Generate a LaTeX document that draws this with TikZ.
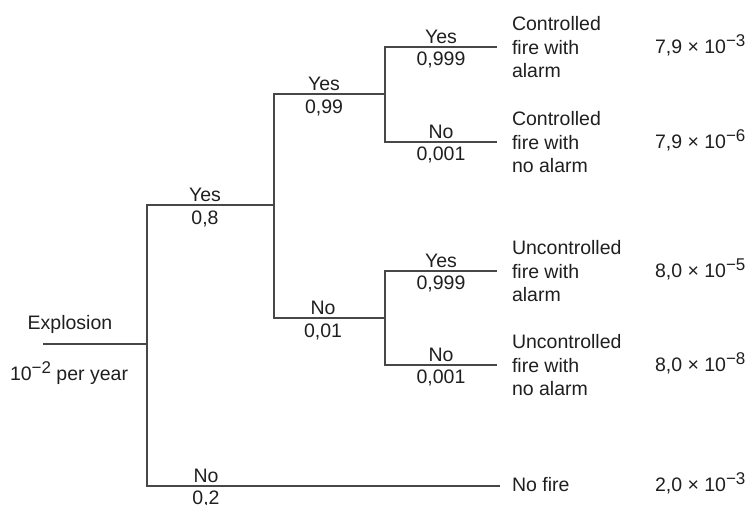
\documentclass[tikz,border=0pt]{standalone}
\usepackage{fontspec}
\setmainfont{Liberation Sans}
% power of ten with a raised exponent
\newcommand{\tenpow}[1]{10\raisebox{7pt}{\fontsize{17}{17}\selectfont −#1}}
\begin{document}
\begin{tikzpicture}[x=1pt,y=-1pt,
  every node/.style={inner sep=0pt, outer sep=0pt,
    font=\fontsize{19.5}{23.5}\selectfont, text=black!88},
  branch/.style={line width=1.6pt, draw=black!72, line join=miter},
  lab/.style={anchor=base},
  outcome/.style={anchor=west, align=left},
  single/.style={anchor=base west},
  value/.style={anchor=base west}]
\useasboundingbox (0,0) rectangle (749,504);

% branch points of the event tree
\coordinate (ex0) at (43,344);
\coordinate (n1)  at (147,344);
\coordinate (n1t) at (147,205);
\coordinate (n1b) at (147,486);
\coordinate (n2)  at (274,205);
\coordinate (n2t) at (274,94);
\coordinate (n2b) at (274,318);
\coordinate (n3)  at (385,94);
\coordinate (n3t) at (385,47);
\coordinate (n3b) at (385,142);
\coordinate (n4)  at (385,318);
\coordinate (n4t) at (385,271);
\coordinate (n4b) at (385,365);
\coordinate (e1) at (497,47);
\coordinate (e2) at (497,142);
\coordinate (e3) at (497,271);
\coordinate (e4) at (497,365);
\coordinate (e5) at (500,486);

% initiating event
\node[lab] (expl) at (70,329) {Explosion};
\node[single] (freq) at (10,380) {\tenpow{2} per year};
\draw[branch] (ex0) -- (n1);

% branches
\draw[branch] (n2) -- (n1t) -- (n1b) -- (e5);
\draw[branch] (n3) -- (n2t) -- (n2b) -- (n4);
\draw[branch] (e1) -- (n3t) -- (n3b) -- (e2);
\draw[branch] (e3) -- (n4t) -- (n4b) -- (e4);

% branch labels
\path (n1t) ++(58,-3.5) node[lab] (l1y) {Yes} ++(0,22.5) node[lab] (l1p) {0,8};
\path (n1b) ++(59,-3.5) node[lab] (l1n) {No} ++(0,21.5) node[lab] (l1q) {0,2};
\path (n2t) ++(50,-3.5) node[lab] (l2y) {Yes} ++(0,22.5) node[lab] (l2p) {0,99};
\path (n2b) ++(49,-3.5) node[lab] (l2n) {No} ++(0,22.5) node[lab] (l2q) {0,01};
\path (n3t) ++(56,-3.5) node[lab] (l3y) {Yes} ++(0,21.5) node[lab] (l3p) {0,999};
\path (n3b) ++(56,-3.5) node[lab] (l3n) {No} ++(0,21.5) node[lab] (l3q) {0,001};
\path (n4t) ++(56,-3.5) node[lab] (l4y) {Yes} ++(0,21.5) node[lab] (l4p) {0,999};
\path (n4b) ++(56,-3.5) node[lab] (l4n) {No} ++(0,21.5) node[lab] (l4q) {0,001};

% outcomes
\path (e1) ++(15,2.6) node[outcome] (o1) {\strut Controlled\\\strut fire with\\\strut alarm};
\path (e2) ++(15,2.6) node[outcome] (o2) {\strut Controlled\\\strut fire with\\\strut no alarm};
\path (e3) ++(15,2.6) node[outcome] (o3) {\strut Uncontrolled\\\strut fire with\\\strut alarm};
\path (e4) ++(15,2.6) node[outcome] (o4) {\strut Uncontrolled\\\strut fire with\\\strut no alarm};
\path (e5) ++(12,5) node[single] (o5) {No fire};

% frequencies
\node[value] (v1) at (655,53) {7,9 × \tenpow{3}};
\node[value] (v2) at (655,148) {7,9 × \tenpow{6}};
\node[value] (v3) at (655,277) {8,0 × \tenpow{5}};
\node[value] (v4) at (655,371) {8,0 × \tenpow{8}};
\node[value] (v5) at (655,491) {2,0 × \tenpow{3}};
\end{tikzpicture}
\end{document}
